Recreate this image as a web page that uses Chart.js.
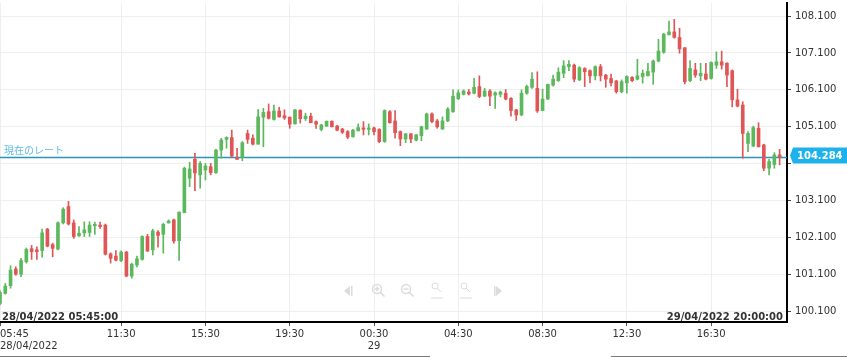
<!DOCTYPE html>
<html><head><meta charset="utf-8">
<script src="https://cdn.jsdelivr.net/npm/chart.js@4.4.1/dist/chart.umd.min.js"></script>
<style>html,body{margin:0;padding:0;background:#fff;}#wrap{width:847px;height:357px;position:relative;}</style>
</head><body><div id="wrap"><canvas id="c" width="847" height="357"></canvas></div>
<script>
// ---- data (15-minute candles, 28/04/2022 05:45 -> 29/04/2022 19:45) ----
const opens = [
100.32,100.59,100.80,101.25,101.11,101.45,101.80,101.77,101.75,102.33,
101.91,101.79,102.50,102.94,102.50,102.15,102.23,102.24,102.42,102.44,
102.44,101.66,101.60,101.48,101.71,101.06,101.36,101.51,102.13,101.77,
102.25,102.19,102.50,102.58,102.02,102.78,103.71,104.22,103.80,103.93,
104.02,103.86,104.47,104.76,104.81,104.26,104.27,104.92,104.79,104.63,
105.36,105.51,105.30,105.53,105.40,105.36,105.18,105.55,105.32,105.39,
105.24,105.03,105.12,105.25,105.12,105.04,104.97,104.83,104.99,105.07,
105.03,105.07,105.03,104.70,105.51,105.26,104.97,104.77,104.91,104.74,
104.86,105.04,105.45,105.26,105.04,105.26,105.51,105.86,105.98,106.04,
106.01,106.19,105.93,106.07,105.96,105.98,106.01,105.87,105.56,105.42,
106.01,106.17,106.14,105.54,105.85,106.23,106.35,106.55,106.73,106.77,
106.37,106.68,106.62,106.48,106.73,106.50,106.41,106.34,106.05,106.29,
106.44,106.39,106.46,106.48,106.58,106.88,107.12,107.59,107.67,107.52,
107.24,106.35,106.64,106.48,106.53,106.41,106.77,106.86,106.82,106.62,
105.83,105.69,104.65,104.58,105.06,104.61,103.98,104.08,104.34];
const highs = [
100.66,100.86,101.34,101.31,101.54,101.82,101.89,101.85,102.33,102.35,
101.95,102.53,102.91,103.08,102.58,102.40,102.53,102.53,102.52,102.52,
102.47,101.69,101.75,101.74,101.73,101.41,101.60,102.15,102.19,102.33,
102.29,102.49,102.58,102.60,102.80,104.01,104.14,104.38,104.16,104.11,
104.11,104.49,104.79,104.83,105.01,104.52,104.70,105.01,104.88,105.57,
105.60,105.72,105.69,105.63,105.56,105.37,105.57,105.56,105.47,105.47,
105.26,105.17,105.26,105.26,105.14,105.06,105.00,105.03,105.18,105.24,
105.18,105.09,105.05,105.56,105.54,105.54,104.99,104.92,104.92,104.90,
105.12,105.47,105.48,105.30,105.37,105.62,106.10,106.10,106.10,106.11,
106.41,106.48,106.14,106.11,106.05,106.07,106.11,105.89,105.57,106.10,
106.23,106.57,106.59,106.12,106.26,106.50,106.70,106.89,106.89,106.80,
106.73,106.70,106.64,106.75,106.79,106.52,106.53,106.36,106.37,106.48,
106.46,106.93,106.64,106.82,106.91,107.47,107.63,107.96,108.01,107.77,
107.25,106.89,106.82,106.82,106.82,106.86,107.13,107.15,106.84,106.64,
106.12,105.78,104.97,105.12,105.21,104.63,104.22,104.40,104.49];
const lows = [
100.28,100.57,100.73,101.08,101.04,101.41,101.51,101.51,101.57,101.85,
101.58,101.77,102.47,102.44,102.08,102.13,102.13,102.13,102.19,102.35,
101.63,101.41,101.47,101.45,101.04,101.00,101.31,101.49,101.72,101.63,
101.84,101.68,102.49,101.95,101.48,102.77,103.48,103.37,103.44,103.66,
103.80,103.84,104.25,104.52,104.27,104.22,104.18,104.65,104.61,104.63,
104.56,105.31,105.28,105.36,105.30,105.06,105.17,105.20,105.27,105.21,
105.06,104.99,105.11,105.10,104.99,104.92,104.78,104.82,104.99,104.88,
104.88,104.88,104.67,104.68,105.20,104.79,104.59,104.67,104.67,104.72,
104.72,105.03,105.21,105.06,105.03,105.24,105.49,105.84,105.96,105.96,
105.99,105.89,105.92,105.67,105.60,105.91,105.83,105.39,105.27,105.40,
105.98,106.14,105.49,105.54,105.84,106.20,106.33,106.43,106.62,106.32,
106.35,106.19,106.29,106.37,106.34,106.17,106.21,106.01,106.02,106.01,
106.32,106.37,106.28,106.48,106.25,106.86,107.09,107.59,107.50,107.09,
106.26,106.32,106.44,106.35,106.37,106.39,106.68,106.66,106.19,105.64,
105.64,104.25,104.43,104.56,104.55,103.91,103.80,103.98,104.07];
const closes = [
100.61,100.79,101.22,101.11,101.48,101.78,101.72,101.72,102.23,101.87,
101.81,102.50,102.87,102.47,102.13,102.22,102.31,102.44,102.46,102.40,
101.65,101.54,101.49,101.71,101.06,101.38,101.53,102.13,101.74,102.28,
102.16,102.46,102.55,102.01,102.79,103.98,103.96,103.85,104.11,104.04,
103.86,104.47,104.74,104.81,104.31,104.22,104.67,104.76,104.63,105.37,
105.49,105.33,105.53,105.37,105.34,105.17,105.56,105.32,105.39,105.21,
105.17,105.15,105.25,105.10,105.01,104.95,104.82,105.01,105.08,105.03,
105.07,104.97,104.70,105.54,105.21,104.94,104.77,104.91,104.77,104.88,
105.10,105.45,105.24,105.10,105.26,105.58,105.93,106.02,106.07,105.99,
106.17,105.92,106.07,105.93,106.02,106.04,105.85,105.54,105.42,106.01,
106.19,106.39,105.53,105.85,106.25,106.39,106.58,106.75,106.79,106.39,
106.70,106.59,106.48,106.73,106.48,106.39,106.29,106.05,106.32,106.46,
106.35,106.48,106.55,106.60,106.88,107.15,107.61,107.67,107.52,107.21,
106.32,106.68,106.50,106.55,106.39,106.84,106.86,106.77,106.50,105.83,
105.66,104.92,104.92,105.08,104.56,103.98,104.16,104.34,104.284];

const xTickIndex = [0, 23, 39, 55, 71, 87, 103, 119, 135];
const xTickLabels = [["05:45","28/04/2022"], "11:30", "15:30", "19:30", ["00:30","29"], "04:30", "08:30", "12:30", "16:30"];
const yTicks = [100.1, 101.1, 102.1, 103.1, 104.1, 105.1, 106.1, 107.1, 108.1];
const currentRate = 104.284;
const rateLabel = "現在のレート";
const startLabel = "28/04/2022 05:45:00";
const endLabel = "29/04/2022 20:00:00";

const X_MIN = 0, X_MAX = 149.4, Y_MIN = 99.816, Y_MAX = 108.452;
const UP = '#5cb85c', DOWN = '#e05656';
const colors = opens.map((o, i) => closes[i] >= o ? UP : DOWN);
const wickData = opens.map((o, i) => ({x: i, y: [lows[i], highs[i]]}));
const bodyData = opens.map((o, i) => ({x: i, y: [o, closes[i]]}));

Chart.defaults.font.family = "'DejaVu Sans', Verdana, sans-serif";
Chart.defaults.font.size = 10;
Chart.defaults.color = '#333';

const overlay = {
  id: 'overlay',
  beforeDatasetsDraw(chart) {
    const {ctx, chartArea: a, scales: {y}} = chart;
    const yy = Math.round(y.getPixelForValue(currentRate)) + 0.5;
    ctx.save();
    ctx.strokeStyle = '#2b93b8'; ctx.lineWidth = 1.3;
    ctx.beginPath(); ctx.moveTo(a.left, yy); ctx.lineTo(a.right, yy); ctx.stroke();
    ctx.fillStyle = '#5bbde2';
    ctx.font = "10px 'Noto Sans CJK JP'";
    ctx.textBaseline = 'alphabetic'; ctx.textAlign = 'left';
    ctx.fillText(rateLabel, 4, yy - 4);
    ctx.restore();
  },
  afterDraw(chart) {
    const {ctx, chartArea: a, scales: {y}} = chart;
    const yy = y.getPixelForValue(currentRate) - 1.5;
    ctx.save();
    // price box
    ctx.fillStyle = '#1db2ec';
    ctx.beginPath();
    ctx.moveTo(a.right + 3, yy);
    ctx.lineTo(a.right + 6, yy - 8);
    ctx.lineTo(847, yy - 8);
    ctx.lineTo(847, yy + 8);
    ctx.lineTo(a.right + 6, yy + 8);
    ctx.closePath(); ctx.fill();
    ctx.fillStyle = '#fff';
    ctx.font = "bold 10px 'DejaVu Sans'";
    ctx.textAlign = 'left'; ctx.textBaseline = 'middle';
    ctx.fillText(currentRate.toFixed(3), a.right + 10, yy + 0.5);
    // start / end labels
    ctx.fillStyle = '#333';
    ctx.font = "bold 10px 'DejaVu Sans'";
    ctx.textBaseline = 'middle';
    ctx.textAlign = 'left'; ctx.fillText(startLabel, 2, a.bottom - 5);
    ctx.textAlign = 'right'; ctx.fillText(endLabel, a.right - 4, a.bottom - 5);
    // navigation icons
    ctx.strokeStyle = '#dcdcdc'; ctx.fillStyle = '#dcdcdc'; ctx.lineWidth = 1.5;
    const cy = 291;
    ctx.beginPath(); ctx.moveTo(344, cy); ctx.lineTo(350, cy - 5); ctx.lineTo(350, cy + 5); ctx.closePath(); ctx.fill();
    ctx.fillRect(351, cy - 5, 1.5, 10);
    ctx.beginPath(); ctx.moveTo(502, cy); ctx.lineTo(496, cy - 5); ctx.lineTo(496, cy + 5); ctx.closePath(); ctx.fill();
    ctx.fillRect(494, cy - 5, 1.5, 10);
    const mag = (x, y0, r) => { ctx.beginPath(); ctx.arc(x, y0, r, 0, Math.PI * 2); ctx.stroke();
      ctx.beginPath(); ctx.moveTo(x + r * 0.7, y0 + r * 0.7); ctx.lineTo(x + r + 3, y0 + r + 3); ctx.stroke(); };
    mag(377, cy - 2, 4.5); ctx.beginPath(); ctx.moveTo(374.5, cy - 2); ctx.lineTo(379.5, cy - 2); ctx.moveTo(377, cy - 4.5); ctx.lineTo(377, cy + 0.5); ctx.stroke();
    mag(406, cy - 2, 4.5); ctx.beginPath(); ctx.moveTo(403.5, cy - 2); ctx.lineTo(408.5, cy - 2); ctx.stroke();
    ctx.lineWidth = 1;
    mag(435, cy - 5, 3); ctx.beginPath(); ctx.moveTo(431, cy + 7); ctx.lineTo(443, cy + 7); ctx.stroke();
    mag(464, cy - 5, 3); ctx.beginPath(); ctx.moveTo(460, cy + 7); ctx.lineTo(472, cy + 7); ctx.stroke();
    // scrollbar track lines
    ctx.strokeStyle = '#7a7a7a'; ctx.lineWidth = 1;
    ctx.beginPath(); ctx.moveTo(0, 356.5); ctx.lineTo(430, 356.5); ctx.moveTo(611, 356.5); ctx.lineTo(847, 356.5); ctx.stroke();
    ctx.restore();
  }
};

new Chart(document.getElementById('c'), {
  type: 'bar',
  data: {
    datasets: [
      {data: wickData, backgroundColor: colors, barThickness: 1, grouped: false, order: 2},
      {data: bodyData, backgroundColor: colors, barThickness: 3, minBarLength: 1, grouped: false, order: 1}
    ]
  },
  options: {
    responsive: false, animation: false,
    layout: {padding: {top: 3, left: 0, right: 0, bottom: 0}},
    plugins: {legend: {display: false}, tooltip: {enabled: false}},
    scales: {
      x: {
        type: 'linear', min: X_MIN, max: X_MAX, offset: false,
        grid: {offset: false, color: '#efefef', tickLength: 4,
               tickColor: c => (c.tick && c.tick.value > X_MAX - 1) ? 'rgba(0,0,0,0)' : '#555'},
        border: {color: '#000', width: 2},
        afterBuildTicks: s => { s.ticks = xTickIndex.map(v => ({value: v})).concat([{value: X_MAX}]); },
        afterFit: s => { s.height = 35; s.paddingLeft = 0; s.paddingRight = 0; },
        ticks: {align: 'inner', padding: 2, maxRotation: 0, autoSkip: false, color: '#333', font: {size: 10},
                callback: (v, i) => i < xTickLabels.length ? xTickLabels[i] : ''}
      },
      y: {
        position: 'right', min: Y_MIN, max: Y_MAX,
        grid: {color: '#efefef', tickLength: 4, tickColor: '#444'},
        border: {color: '#000', width: 2},
        afterBuildTicks: s => { s.ticks = yTicks.map(v => ({value: v})); },
        afterFit: s => { s.width = 60; s.paddingTop = 0; s.paddingBottom = 0; },
        ticks: {padding: 4, color: '#333', font: {size: 10},
                callback: v => Math.abs(v - currentRate) < 0.3 ? '' : Number(v).toFixed(3)}
      }
    }
  },
  plugins: [overlay]
});
</script></body></html>
